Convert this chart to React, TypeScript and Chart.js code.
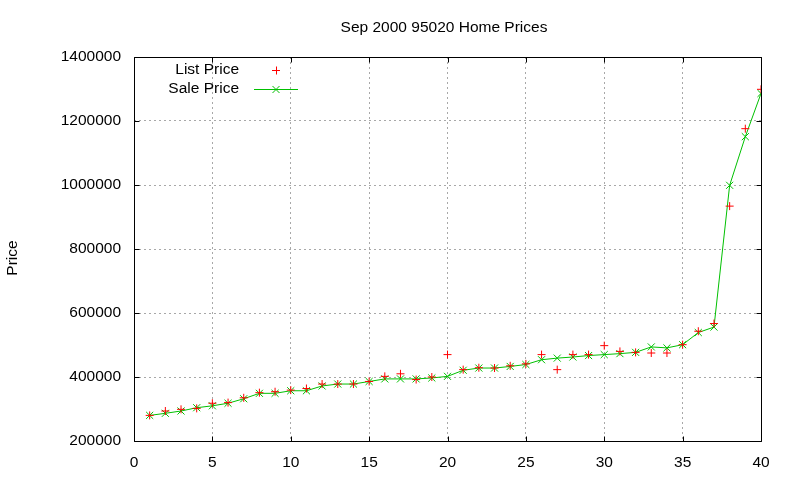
import React, { useEffect, useRef } from "react";
import { Chart, registerables } from "chart.js";

Chart.register(...registerables);

const houses: number[] = [1, 2, 3, 4, 5, 6, 7, 8, 9, 10, 11, 12, 13, 14, 15, 16, 17, 18, 19, 20, 21, 22, 23, 24, 25, 26, 27, 28, 29, 30, 31, 32, 33, 34, 35, 36, 37, 38, 39, 40];

const listPrice: number[] = [
  280000, 293750, 299000, 302000, 318000, 320000, 335000, 351000, 354000, 359000,
  364000, 378000, 378000, 378000, 386000, 402000, 410000, 392000, 400000, 470000,
  423000, 429000, 428000, 435000, 441000, 470000, 423000, 470000, 470000, 498000,
  480000, 477000, 475000, 475000, 501000, 543000, 567000, 934000, 1176000, 1299000,
];

const salePrice: number[] = [
  280000, 286500, 293750, 304000, 310000, 318000, 332000, 349000, 349000, 357000,
  357000, 372000, 378000, 378000, 386000, 394000, 394000, 394000, 397000, 402000,
  421000, 428000, 428000, 433000, 439000, 454000, 459000, 462500, 467000, 470000,
  473000, 477000, 494000, 491000, 501000, 539000, 556000, 999000, 1151000, 1286000,
];

const xTicks: number[] = [0, 5, 10, 15, 20, 25, 30, 35, 40];
const yTicks: number[] = [200000, 400000, 600000, 800000, 1000000, 1200000, 1400000];

const titleText = "Sep 2000 95020 Home Prices";
const yLabel = "Price";
const listLabel = "List Price";
const saleLabel = "Sale Price";

const FONT = '"Liberation Sans", Arial, sans-serif';
const FSIZE = 15.5;
const RED = "#ff0000";
const GREEN = "#00c000";

const decor = {
  id: "gnuplotDecor",
  afterDraw(chart: any) {
    const ctx = chart.ctx as CanvasRenderingContext2D;
    const a = chart.chartArea;
    const xs = chart.scales.x;
    const ys = chart.scales.y;
    ctx.save();
    ctx.strokeStyle = "#000";
    ctx.lineWidth = 1;
    ctx.setLineDash([]);
    const L = Math.round(a.left) + 0.5, R = Math.round(a.right) + 0.5;
    const T = Math.round(a.top) + 0.5, B = Math.round(a.bottom) + 0.5;
    ctx.beginPath();
    ctx.rect(L, T, R - L, B - T);
    ctx.stroke();
    const tl = 5;
    ctx.beginPath();
    xTicks.forEach((t) => {
      const px = Math.round(xs.getPixelForValue(t)) + 0.5;
      ctx.moveTo(px, B); ctx.lineTo(px, B - tl);
      ctx.moveTo(px, T); ctx.lineTo(px, T + tl);
    });
    yTicks.forEach((t) => {
      const py = Math.round(ys.getPixelForValue(t)) + 0.5;
      ctx.moveTo(L, py); ctx.lineTo(L + tl, py);
      ctx.moveTo(R, py); ctx.lineTo(R - tl, py);
    });
    ctx.stroke();
    ctx.fillStyle = "#000";
    ctx.font = `${FSIZE}px ${FONT}`;
    ctx.textAlign = "center";
    ctx.textBaseline = "middle";
    ctx.fillText(titleText, 444, 28);
    ctx.save();
    ctx.translate(13, 258);
    ctx.rotate(-Math.PI / 2);
    ctx.fillText(yLabel, 0, 0);
    ctx.restore();
    ctx.textAlign = "right";
    ctx.fillText(listLabel, 239, 70);
    ctx.fillText(saleLabel, 239, 89);
    ctx.strokeStyle = RED;
    ctx.beginPath();
    ctx.moveTo(272, 70.5); ctx.lineTo(280, 70.5);
    ctx.moveTo(276.5, 66.5); ctx.lineTo(276.5, 74.5);
    ctx.stroke();
    ctx.strokeStyle = GREEN;
    ctx.beginPath();
    ctx.moveTo(254, 89.5); ctx.lineTo(298, 89.5);
    ctx.moveTo(272.5, 86); ctx.lineTo(279.5, 93);
    ctx.moveTo(279.5, 86); ctx.lineTo(272.5, 93);
    ctx.stroke();
    ctx.restore();
  },
};

export default function App() {
  const ref = useRef<HTMLCanvasElement | null>(null);
  useEffect(() => {
    if (!ref.current) return;
    const chart = new Chart(ref.current, {
      type: "line",
      data: {
        datasets: [
          {
            label: listLabel,
            data: houses.map((h, i) => ({ x: h, y: listPrice[i] })),
            showLine: false,
            pointStyle: "cross",
            pointRadius: 4,
            pointBorderColor: RED,
            pointBackgroundColor: RED,
            pointBorderWidth: 1,
            borderColor: RED,
            order: 0,
          },
          {
            label: saleLabel,
            data: houses.map((h, i) => ({ x: h, y: salePrice[i] })),
            showLine: true,
            borderColor: GREEN,
            borderWidth: 1,
            tension: 0,
            pointStyle: "crossRot",
            pointRadius: 5,
            pointBorderColor: GREEN,
            pointBackgroundColor: GREEN,
            pointBorderWidth: 1,
            order: 1,
          },
        ],
      },
      options: {
        animation: false,
        responsive: false,
        maintainAspectRatio: false,
        layout: { padding: { top: 57, right: 39, left: 0, bottom: 0 } },
        plugins: {
          legend: { display: false },
          title: { display: false },
          tooltip: { enabled: false },
        },
        scales: {
          x: {
            type: "linear",
            min: 0,
            max: 40,
            afterFit: (s: any) => { s.height = 39; },
            afterBuildTicks: (s: any) => { s.ticks = xTicks.map((v) => ({ value: v })); },
            ticks: {
              color: "#000",
              font: { family: FONT, size: FSIZE },
              padding: 12,
              maxRotation: 0,
              callback: (v: any) => String(v),
            },
            grid: { color: "#a8a8a8", drawTicks: false, lineWidth: 1 },
            border: { display: false, dash: [2, 3] },
          },
          y: {
            type: "linear",
            min: 200000,
            max: 1400000,
            afterFit: (s: any) => { s.width = 134; },
            afterBuildTicks: (s: any) => { s.ticks = yTicks.map((v) => ({ value: v })); },
            ticks: {
              color: "#000",
              font: { family: FONT, size: FSIZE },
              padding: 13,
              callback: (v: any) => String(v),
            },
            grid: { color: "#a8a8a8", drawTicks: false, lineWidth: 1 },
            border: { display: false, dash: [2, 3] },
          },
        },
      },
      plugins: [decor],
    });
    return () => chart.destroy();
  }, []);
  return (
    <div style={{ position: "fixed", left: 0, top: 0, width: 800, height: 480, background: "#fff" }}>
      <canvas ref={ref} width={800} height={480} style={{ width: 800, height: 480 }} />
    </div>
  );
}
